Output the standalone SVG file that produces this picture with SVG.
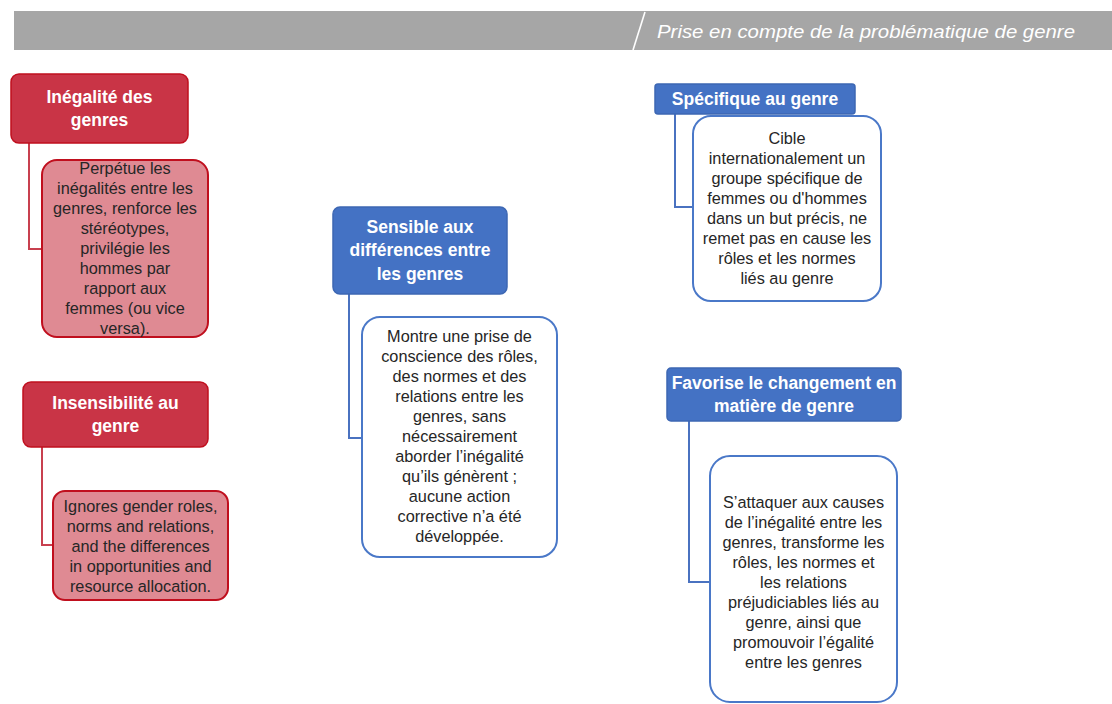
<svg xmlns="http://www.w3.org/2000/svg" width="1112" height="704" viewBox="0 0 1112 704">
<style>
.hr{fill:#c93446;stroke:#c00f1e;stroke-width:1.5}
.cr{fill:#df8a93;stroke:#c00f1e;stroke-width:2}
.hb{fill:#4472c4;stroke:#3d67b3;stroke-width:1.5}
.cb{fill:#ffffff;stroke:#4a78c8;stroke-width:2}
.ht{font-family:"Liberation Sans",Arial,sans-serif;font-weight:bold;font-size:17.5px;fill:#ffffff;text-anchor:middle}
.bt{font-family:"Liberation Sans",Arial,sans-serif;font-size:16.3px;fill:#262626;text-anchor:middle}
.lr{fill:none;stroke:#c8404f;stroke-width:2}
.lb{fill:none;stroke:#4a72c0;stroke-width:2}
</style>
<rect x="0" y="0" width="1112" height="704" fill="#ffffff"/>
<g id="header">
<rect x="14" y="11" width="1098" height="39" fill="#a6a6a6"/>
<line x1="645" y1="12" x2="633" y2="50" stroke="#ffffff" stroke-width="1.6"/>
<text x="657" y="38" font-family="Liberation Sans,Arial,sans-serif" font-style="italic" font-size="19" fill="#ffffff" textLength="418" lengthAdjust="spacingAndGlyphs">Prise en compte de la problématique de genre</text>
</g>
<g id="connectors">
<polyline class="lr" points="29,143 29,249 42,249"/>
<polyline class="lr" points="42,447 42,545 53,545"/>
<polyline class="lb" points="349,294 349,438 362,438"/>
<polyline class="lb" points="675,114 675,207 693,207"/>
<polyline class="lb" points="689,421 689,582 710,582"/>
</g>
<g id="inegalite">
<rect class="hr" x="11" y="74" width="177" height="69" rx="8"/>
<text class="ht" x="99.5" y="103">Inégalité des</text>
<text class="ht" x="99.5" y="126">genres</text>
</g>
<g id="inegalite-desc">
<rect class="cr" x="42" y="160" width="166" height="177" rx="15"/>
<text class="bt" x="125" y="174">Perpétue les</text>
<text class="bt" x="125" y="194">inégalités entre les</text>
<text class="bt" x="125" y="214">genres, renforce les</text>
<text class="bt" x="125" y="234">stéréotypes,</text>
<text class="bt" x="125" y="254">privilégie les</text>
<text class="bt" x="125" y="274">hommes par</text>
<text class="bt" x="125" y="294">rapport aux</text>
<text class="bt" x="125" y="314">femmes (ou vice</text>
<text class="bt" x="125" y="334">versa).</text>
</g>
<g id="insensibilite">
<rect class="hr" x="23" y="382" width="185" height="65" rx="8"/>
<text class="ht" x="115.5" y="409">Insensibilité au</text>
<text class="ht" x="115.5" y="432">genre</text>
</g>
<g id="insensibilite-desc">
<rect class="cr" x="53" y="491" width="175" height="109" rx="12"/>
<text class="bt" x="140.5" y="512">Ignores gender roles,</text>
<text class="bt" x="140.5" y="532">norms and relations,</text>
<text class="bt" x="140.5" y="552">and the differences</text>
<text class="bt" x="140.5" y="572">in opportunities and</text>
<text class="bt" x="140.5" y="592">resource allocation.</text>
</g>
<g id="sensible">
<rect class="hb" x="333" y="207" width="174" height="87" rx="7"/>
<text class="ht" x="420" y="233">Sensible aux</text>
<text class="ht" x="420" y="256">différences entre</text>
<text class="ht" x="420" y="280">les genres</text>
</g>
<g id="sensible-desc">
<rect class="cb" x="362" y="317" width="195" height="240" rx="18"/>
<text class="bt" x="459.5" y="342">Montre une prise de</text>
<text class="bt" x="459.5" y="362">conscience des rôles,</text>
<text class="bt" x="459.5" y="382">des normes et des</text>
<text class="bt" x="459.5" y="402">relations entre les</text>
<text class="bt" x="459.5" y="422">genres, sans</text>
<text class="bt" x="459.5" y="442">nécessairement</text>
<text class="bt" x="459.5" y="462">aborder l’inégalité</text>
<text class="bt" x="459.5" y="482">qu’ils génèrent ;</text>
<text class="bt" x="459.5" y="502">aucune action</text>
<text class="bt" x="459.5" y="522">corrective n’a été</text>
<text class="bt" x="459.5" y="542">développée.</text>
</g>
<g id="specifique">
<rect class="hb" x="655" y="84" width="200" height="30" rx="3"/>
<text class="ht" x="755" y="105">Spécifique au genre</text>
</g>
<g id="specifique-desc">
<rect class="cb" x="693" y="116" width="188" height="185" rx="18"/>
<text class="bt" x="787" y="144">Cible</text>
<text class="bt" x="787" y="164">internationalement un</text>
<text class="bt" x="787" y="184">groupe spécifique de</text>
<text class="bt" x="787" y="204">femmes ou d'hommes</text>
<text class="bt" x="787" y="224">dans un but précis, ne</text>
<text class="bt" x="787" y="244">remet pas en cause les</text>
<text class="bt" x="787" y="264">rôles et les normes</text>
<text class="bt" x="787" y="284">liés au genre</text>
</g>
<g id="favorise">
<rect class="hb" x="667" y="368" width="234" height="53" rx="4"/>
<text class="ht" x="784" y="389">Favorise le changement en</text>
<text class="ht" x="784" y="412">matière de genre</text>
</g>
<g id="favorise-desc">
<rect class="cb" x="710" y="456" width="187" height="246" rx="20"/>
<text class="bt" x="803.5" y="508">S’attaquer aux causes</text>
<text class="bt" x="803.5" y="528">de l’inégalité entre les</text>
<text class="bt" x="803.5" y="548">genres, transforme les</text>
<text class="bt" x="803.5" y="568">rôles, les normes et</text>
<text class="bt" x="803.5" y="588">les relations</text>
<text class="bt" x="803.5" y="608">préjudiciables liés au</text>
<text class="bt" x="803.5" y="628">genre, ainsi que</text>
<text class="bt" x="803.5" y="648">promouvoir l’égalité</text>
<text class="bt" x="803.5" y="668">entre les genres</text>
</g>
</svg>
